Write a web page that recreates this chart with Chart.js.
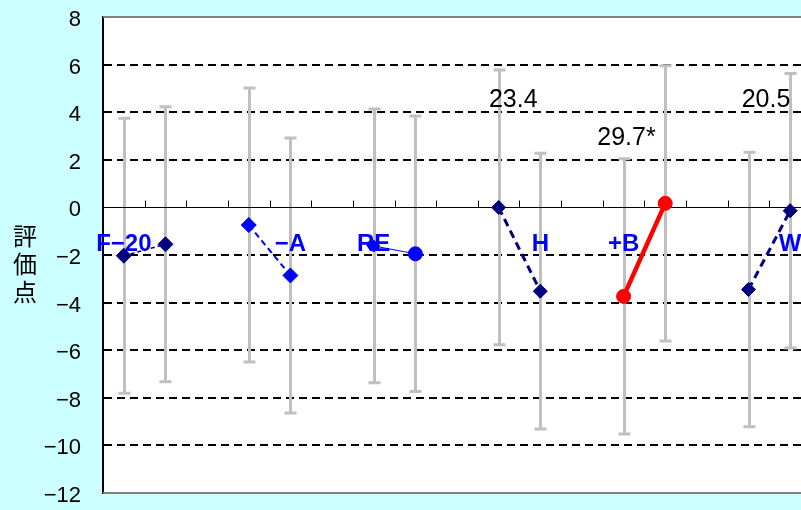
<!DOCTYPE html>
<html>
<head>
<meta charset="utf-8" />
<script src="https://cdn.jsdelivr.net/npm/chart.js@4"></script>
<style>
 html, body { margin: 0; padding: 0; background: #ccffff; overflow: hidden; }
 #wrap { width: 801px; height: 510px; position: relative; }
</style>
<title>評価点</title>
</head>
<body>
<div id="wrap"><canvas id="chart"></canvas></div>
<script>
// data
var groupNames = ['F−20', '−A', 'RE', 'H', '+B', 'W'];
var slotPairs = [[0, 1], [3, 4], [6, 7], [9, 10], [12, 13], [15, 16]];
var firstScore = [-2.03, -0.74, -1.62, 0.0, -3.74, -3.45];
var secondScore = [-1.55, -2.86, -1.95, -3.52, 0.17, -0.14];
var firstSd = [5.78, 5.76, 5.75, 5.77, 5.78, 5.77];
var secondSd = [5.78, 5.78, 5.79, 5.79, 5.78, 5.77];
var labelSlot = [0, 4, 6, 10, 12, 16];
var labelValue = -1.55;
var noteText = ['23.4', '29.7*', '20.5'];
var noteX = [9.85, 12.57, 15.92];
var noteValue = [4.5, 2.92, 4.5];
var yMin = -12, yMax = 8, yStep = 2;
var slotCount = 16.76;

// styles per group
var lineColor = ['#000080', '#0000ff', '#0000ff', '#000080', '#ff0000', '#000080'];
var lineWidth = [1.5, 2, 1, 3, 4.5, 3];
var lineDash = [[4, 3], [6, 4], [], [8, 5], [], [8, 5]];
var markShape = [['rectRot', 'rectRot'], ['rectRot', 'rectRot'], ['rectRot', 'circle'],
                 ['rectRot', 'rectRot'], ['circle', 'circle'], ['rectRot', 'rectRot']];
var markSize = [[7.5, 7.5], [7.5, 7.5], [6, 7], [7, 7], [7, 7], [7, 7]];

var datasets = [];
for (var g = 0; g < groupNames.length; g++) {
    datasets.push({
        label: groupNames[g],
        data: [
            {x: slotPairs[g][0] + 0.5, y: firstScore[g]},
            {x: slotPairs[g][1] + 0.5, y: secondScore[g]}
        ],
        borderColor: lineColor[g],
        backgroundColor: lineColor[g],
        borderWidth: lineWidth[g],
        borderDash: lineDash[g],
        pointStyle: markShape[g],
        pointRadius: markSize[g],
        pointBorderWidth: 1,
        pointBorderColor: lineColor[g],
        pointBackgroundColor: lineColor[g],
        tension: 0
    });
}

var decor = {
    id: 'decor',
    beforeDraw: function (chart) {
        var a = chart.chartArea, ctx = chart.ctx;
        ctx.save();
        ctx.fillStyle = '#fff';
        ctx.fillRect(a.left, a.top, a.right - a.left, a.bottom - a.top);
        ctx.restore();
    },
    beforeDatasetsDraw: function (chart) {
        var ctx = chart.ctx, xs = chart.scales.x, ys = chart.scales.y, area = chart.chartArea;
        ctx.save();
        // top / bottom frame
        ctx.strokeStyle = '#808080';
        ctx.lineWidth = 2;
        ctx.beginPath();
        ctx.moveTo(area.left, area.top); ctx.lineTo(area.right, area.top);
        ctx.moveTo(area.left, area.bottom); ctx.lineTo(area.right, area.bottom);
        ctx.stroke();

        // error bars
        ctx.strokeStyle = '#c0c0c0';
        ctx.lineWidth = 3;
        for (var g = 0; g < groupNames.length; g++) {
            var pts = [[slotPairs[g][0], firstScore[g], firstSd[g]],
                       [slotPairs[g][1], secondScore[g], secondSd[g]]];
            pts.forEach(function (p) {
                var px = Math.round(xs.getPixelForValue(p[0] + 0.5)) + 0.5;
                var top = ys.getPixelForValue(p[1] + p[2]);
                var bot = ys.getPixelForValue(p[1] - p[2]);
                ctx.beginPath();
                ctx.moveTo(px, top); ctx.lineTo(px, bot);
                ctx.moveTo(px - 6, top); ctx.lineTo(px + 6, top);
                ctx.moveTo(px - 6, bot); ctx.lineTo(px + 6, bot);
                ctx.stroke();
            });
        }

        // zero axis with tick marks
        var y0 = Math.round(ys.getPixelForValue(0)) + 0.5;
        ctx.strokeStyle = '#000';
        ctx.lineWidth = 1;
        ctx.beginPath();
        ctx.moveTo(area.left, y0); ctx.lineTo(area.right, y0);
        for (var i = 1; i <= Math.floor(slotCount); i++) {
            var tx = Math.round(xs.getPixelForValue(i)) + 0.5;
            ctx.moveTo(tx, y0); ctx.lineTo(tx, y0 - 7);
        }
        ctx.stroke();

        // group labels
        ctx.fillStyle = '#0000ff';
        ctx.font = 'bold 24px "Liberation Sans", Arial, sans-serif';
        ctx.textAlign = 'center';
        ctx.textBaseline = 'middle';
        for (var k = 0; k < groupNames.length; k++) {
            ctx.fillText(groupNames[k], xs.getPixelForValue(labelSlot[k] + 0.5), ys.getPixelForValue(labelValue));
        }
        ctx.restore();
    },
    afterDatasetsDraw: function (chart) {
        var ctx = chart.ctx, xs = chart.scales.x, ys = chart.scales.y;
        ctx.save();
        ctx.fillStyle = '#000';
        ctx.font = '25px "Liberation Sans", Arial, sans-serif';
        ctx.textAlign = 'center';
        ctx.textBaseline = 'middle';
        for (var n = 0; n < noteText.length; n++) {
            ctx.fillText(noteText[n], xs.getPixelForValue(noteX[n]), ys.getPixelForValue(noteValue[n]));
        }
        ctx.restore();
    },
    afterDraw: function (chart) {
        // vertical axis title, upright characters
        var ctx = chart.ctx, area = chart.chartArea;
        var title = '評価点';
        ctx.save();
        ctx.fillStyle = '#000';
        ctx.font = '24px "Noto Sans CJK JP", sans-serif';
        ctx.textAlign = 'center';
        ctx.textBaseline = 'middle';
        var mid = (area.top + area.bottom) / 2 + 9;
        for (var c = 0; c < title.length; c++) {
            ctx.fillText(title[c], 25, mid + (c - 1) * 28);
        }
        ctx.restore();
    }
};

new Chart(document.getElementById('chart'), {
    type: 'line',
    data: { datasets: datasets },
    plugins: [decor],
    options: {
        responsive: true,
        maintainAspectRatio: false,
        animation: false,
        layout: { padding: 0, autoPadding: false },
        plugins: { legend: { display: false }, tooltip: { enabled: false } },
        scales: {
            x: {
                type: 'linear',
                min: 0,
                max: slotCount,
                display: false
            },
            y: {
                min: yMin,
                max: yMax,
                afterFit: function (scale) {
                    scale.width = 103;
                    scale.paddingTop = 17;
                    scale.paddingBottom = 17;
                },
                ticks: {
                    stepSize: yStep,
                    color: '#000',
                    padding: 22,
                    labelOffset: 3,
                    font: { size: 22, family: '"Liberation Sans", Arial, sans-serif' },
                    callback: function (v) { return String(v).replace('-', '\u2212'); }
                },
                grid: {
                    drawTicks: false,
                    lineWidth: 2,
                    color: function (c) {
                        var v = c.tick ? c.tick.value : null;
                        return (v === 0 || v === yMin || v === yMax) ? 'rgba(0,0,0,0)' : '#000';
                    }
                },
                border: { display: true, color: '#000', width: 2, dash: [8, 5] }
            }
        }
    }
});
</script>
</body>
</html>
